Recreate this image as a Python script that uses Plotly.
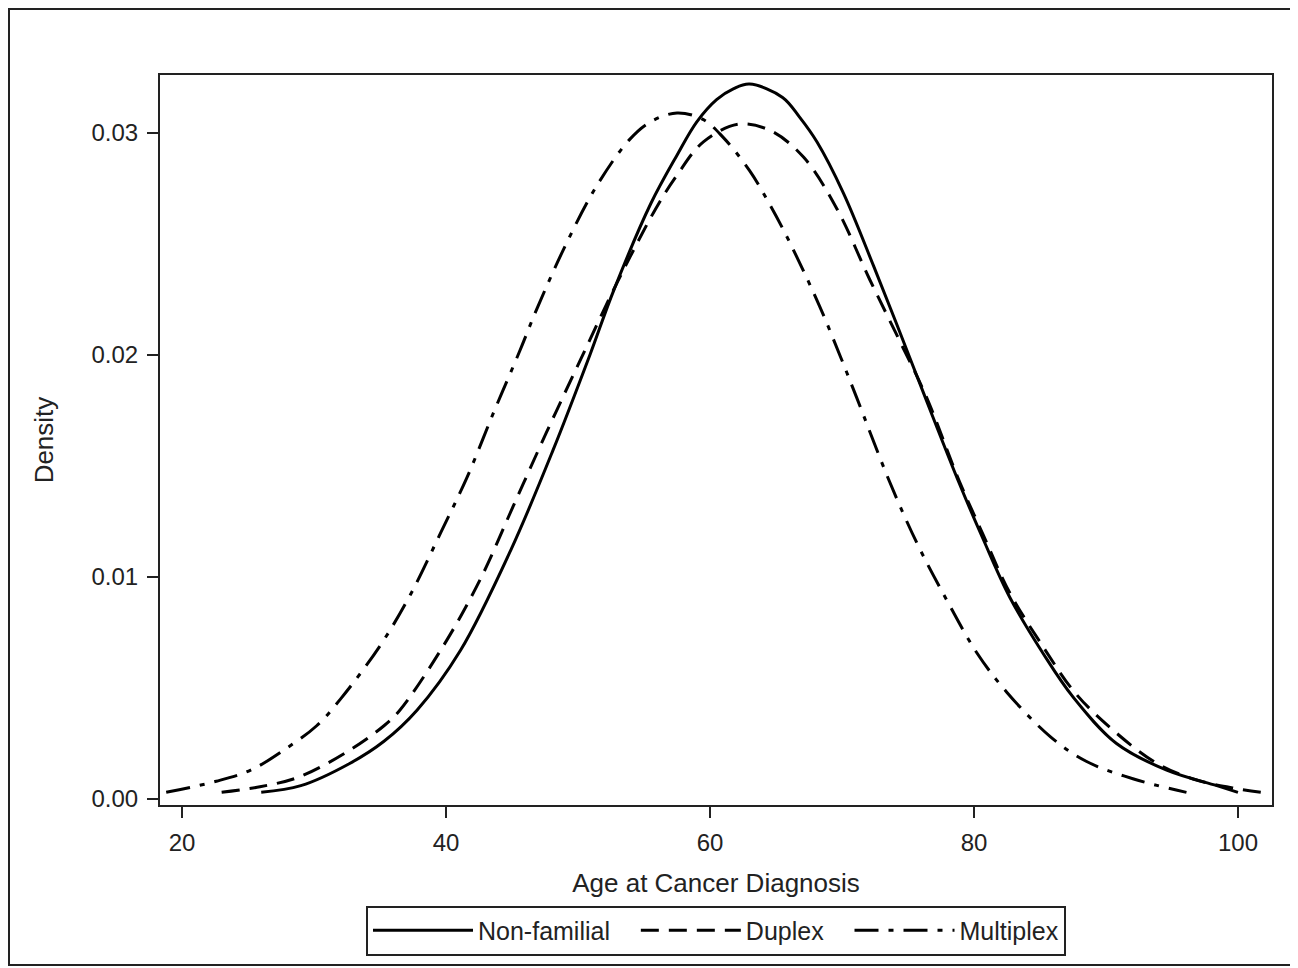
import plotly.graph_objects as go

# Non-familial (solid)
nonfam_age = [26, 29, 32.7, 35.3, 37.8, 41.1, 44.9, 48.1, 50.9, 52.7, 55.5, 57.5, 59.0, 60.5, 61.8,
              63.0, 65.5, 66.8, 68.1, 70.1, 72.4, 74.4, 76.3, 78.9, 80.7, 82.7, 85.3, 87.5, 90.8,
              94.6, 98.4, 100]
nonfam_den = [0.0003, 0.0006, 0.0016, 0.0026, 0.0040, 0.0067, 0.0112, 0.0157, 0.0200, 0.0229, 0.0268,
              0.0290, 0.0305, 0.0315, 0.0320, 0.0322, 0.0316, 0.0307, 0.0296, 0.0273, 0.0240,
              0.0210, 0.0181, 0.0142, 0.0117, 0.0091, 0.0065, 0.0046, 0.0025, 0.0013, 0.0006, 0.0003]

# Duplex (dashed)
duplex_age = [23, 25.9, 28.9, 32.7, 35.3, 36.5, 39.8, 42.6, 45.1, 47.6, 50.2, 53, 55.9, 57.5, 59.5,
              62.2, 64.6, 67.1, 69.6, 72.1, 74.4, 76.4, 78.9, 80.7, 82.7, 85.3, 87.5, 89.6, 93.6,
              96.6, 99.6, 101.8]
duplex_den = [0.0003, 0.00055, 0.0010, 0.0022, 0.0033, 0.0040, 0.0069, 0.0099, 0.0132, 0.0165, 0.0198,
              0.0233, 0.0266, 0.0281, 0.0296, 0.0304, 0.0301, 0.0289, 0.0266, 0.0234, 0.0206, 0.0181,
              0.0143, 0.0119, 0.0093, 0.0068, 0.0049, 0.0036, 0.0017, 0.0009, 0.0005, 0.0003]

# Multiplex (dash-dot)
multi_age = [18.8, 22.6, 25.2, 27.7, 30.2, 32.0, 35.0, 37.3, 39.6, 41.6, 43.6, 45.6, 46.9, 49.1, 51.4,
             53.9, 55.5, 57.5, 59.5, 61.0, 63.0, 64.6, 66.1, 68.3, 69.9, 71.1, 73.6, 75.7, 77.9, 80.2,
             82.5, 85.8, 88.5, 92.1, 96.1]
multi_den = [0.0003, 0.0008, 0.0013, 0.0022, 0.0033, 0.0045, 0.0069, 0.0092, 0.0120, 0.0145, 0.0174,
             0.0202, 0.0221, 0.0250, 0.0276, 0.0297, 0.0305, 0.0309, 0.0306, 0.0298, 0.0283, 0.0267,
             0.0250, 0.0222, 0.0199, 0.0181, 0.0143, 0.0115, 0.0090, 0.0066, 0.0048, 0.0028, 0.0017,
             0.0009, 0.0003]

series_names = ["Non-familial", "Duplex", "Multiplex"]
x_ticks = [20, 40, 60, 80, 100]
y_ticks = [0.00, 0.01, 0.02, 0.03]
y_tick_text = ["0.00", "0.01", "0.02", "0.03"]

FONT = "Liberation Sans, Arial, sans-serif"
INK = "#222"
NB = "&nbsp;&nbsp;&nbsp;"

fig = go.Figure()
fig.add_trace(go.Scatter(x=nonfam_age, y=nonfam_den, mode="lines", name=series_names[0] + NB,
                         line=dict(color="black", width=3, shape="spline")))
fig.add_trace(go.Scatter(x=duplex_age, y=duplex_den, mode="lines", name=series_names[1] + NB,
                         line=dict(color="black", width=3, shape="spline", dash="18px,10px")))
fig.add_trace(go.Scatter(x=multi_age, y=multi_den, mode="lines", name=series_names[2],
                         line=dict(color="black", width=3, shape="spline",
                                   dash="24px,10px,5px,10px")))

# page is offset by the 8px body margin; layout is given in page pixels below
OFF = 8
W, H = 1298 - OFF, 968 - OFF
PL, PR, PT, PB = 160, 1272, 75, 805  # plot area in page pixels
L, T = PL - OFF, PT - OFF
R = W - (PR - OFF)
B = H - (PB - OFF)
pw, ph = PR - PL, PB - PT


def px(xp):
    return (xp - PL) / pw


def py(yp):
    return (PB - yp) / ph


fig.add_shape(type="rect", xref="paper", yref="paper",
              x0=px(9), x1=px(1293), y0=py(965), y1=py(9),
              line=dict(color=INK, width=2), layer="below")

fig.update_layout(
    width=W, height=H,
    margin=dict(l=L, r=R, t=T, b=B),
    paper_bgcolor="white", plot_bgcolor="white",
    font=dict(family=FONT, size=24, color=INK),
    showlegend=True,
    legend=dict(orientation="h", x=0.5, xanchor="center", y=py(930.5), yanchor="middle",
                bordercolor=INK, borderwidth=2, itemwidth=100,
                font=dict(size=25), bgcolor="white"),
    xaxis=dict(range=[18.33, 102.58], tickvals=x_ticks, ticks="outside", ticklen=11,
               tickwidth=2, tickcolor=INK, showline=True, linecolor=INK, linewidth=2,
               mirror=True, showgrid=False, zeroline=False, ticklabelstandoff=4,
               title=dict(text="Age at Cancer Diagnosis", standoff=19, font=dict(size=26))),
    yaxis=dict(range=[-0.00027, 0.03261], tickvals=y_ticks, ticktext=y_tick_text,
               ticks="outside", ticklen=11, tickwidth=2, tickcolor=INK, showline=True,
               linecolor=INK, linewidth=2, mirror=True, showgrid=False, zeroline=False,
               ticklabelstandoff=4,
               title=dict(text="Density", standoff=30, font=dict(size=26))),
)

fig.write_html("out.html")
